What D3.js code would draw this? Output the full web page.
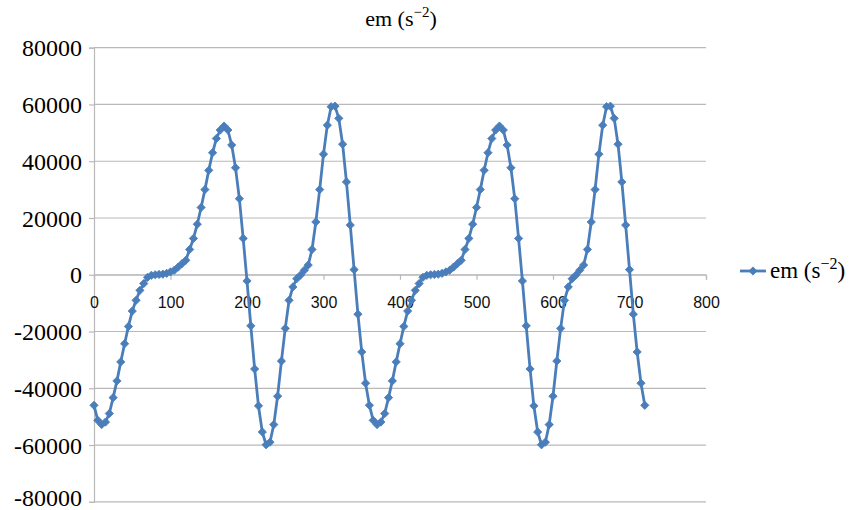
<!DOCTYPE html>
<html>
<head>
<meta charset="utf-8">
<script src="https://cdn.jsdelivr.net/npm/d3@7"></script>
<style>
  html, body { margin: 0; padding: 0; background: #fff; }
  svg { display: block; }
</style>
</head>
<body>
<svg id="chart" width="856" height="510"></svg>
<script>
// ---- data ----
const angles = [
  0,5,10,15,20,25,30,35,40,45,50,55,60,65,70,75,80,85,90,95,
  100,105,110,115,120,125,130,135,140,145,150,155,160,165,170,175,180,185,190,195,
  200,205,210,215,220,225,230,235,240,245,250,255,260,265,270,275,280,285,290,295,
  300,305,310,315,320,325,330,335,340,345,350,355,360,
  365,370,375,380,385,390,395,400,405,410,415,420,425,430,435,440,445,450,455,
  460,465,470,475,480,485,490,495,500,505,510,515,520,525,530,535,540,545,550,555,
  560,565,570,575,580,585,590,595,600,605,610,615,620,625,630,635,640,645,650,655,
  660,665,670,675,680,685,690,695,700,705,710,715,720
];
const emValues = [
  -46000,-51300,-52800,-51900,-48900,-43300,-37400,-30700,-24300,-18200,
  -12800,-9000,-5500,-3100,-900,-200,0,100,200,500,
  1000,1600,2700,3900,5100,8900,12800,17800,23700,30000,
  36800,43000,48000,51000,52400,51000,45700,37700,26800,12800,
  -2200,-18000,-33200,-46200,-55400,-59900,-59000,-52800,-42800,-30400,
  -18900,-9000,-4300,-1400,-100,1600,3400,8900,18600,30000,
  42500,52700,59200,59400,55100,46000,32700,17500,1800,-13900,
  -27200,-38200,-46000,
  -51300,-52800,-51900,-48900,-43300,-37400,-30700,-24300,-18200,
  -12800,-9000,-5500,-3100,-900,-200,0,100,200,500,
  1000,1600,2700,3900,5100,8900,12800,17800,23700,30000,
  36800,43000,48000,51000,52400,51000,45700,37700,26800,12800,
  -2200,-18000,-33200,-46200,-55400,-59900,-59000,-52800,-42800,-30400,
  -18900,-9000,-4300,-1400,-100,1600,3400,8900,18600,30000,
  42500,52700,59200,59400,55100,46000,32700,17500,1800,-13900,
  -27200,-38200,-46000
];
const xTickValues = [0,100,200,300,400,500,600,700,800];
const yTickValues = [-80000,-60000,-40000,-20000,0,20000,40000,60000,80000];
const seriesName = "em (s";
const seriesSup = "\u22122";

// ---- layout ----
const svg = d3.select("#chart");
const plotLeft = 94, plotRight = 706, plotTop = 47.7, plotBottom = 501.8;
const x = d3.scaleLinear().domain([0, 800]).range([plotLeft, plotRight]);
const y = d3.scaleLinear().domain([-80000, 80000]).range([plotBottom, plotTop]);
const blue = "#4a7ebb";
const grid = "#b9b9b9";

// gridlines
svg.append("g").selectAll("line").data(yTickValues).join("line")
  .attr("x1", plotLeft).attr("x2", plotRight)
  .attr("y1", d => y(d)).attr("y2", d => y(d))
  .attr("stroke", grid).attr("stroke-width", 1.2);

// y axis
const yAxis = svg.append("g").attr("transform", `translate(${plotLeft},0)`)
  .call(d3.axisLeft(y).tickValues(yTickValues).tickSize(5).tickPadding(7).tickFormat(d3.format("d")));
yAxis.select(".domain").attr("stroke", grid).attr("stroke-width", 1.2);
yAxis.selectAll(".tick line").attr("stroke", grid).attr("stroke-width", 1.2);
yAxis.selectAll("text")
  .attr("font-family", "'Liberation Serif', 'Times New Roman', serif")
  .attr("font-size", 24).attr("fill", "#000")
  .attr("dy", d => d === -80000 ? "0.17em" : "0.34em")
  .text(d => d < 0 ? "-" + Math.abs(d) : String(d));

// x axis at y = 0
const xAxis = svg.append("g").attr("transform", `translate(0,${y(0)})`)
  .call(d3.axisBottom(x).tickValues(xTickValues).tickSize(5).tickFormat(d3.format("d")));
xAxis.select(".domain").attr("stroke", grid).attr("stroke-width", 1.2);
xAxis.selectAll(".tick line").attr("stroke", grid).attr("stroke-width", 1.2);
xAxis.selectAll("text")
  .attr("font-family", "'Liberation Sans', Arial, sans-serif")
  .attr("font-size", 16).attr("fill", "#111")
  .attr("y", 28).attr("dy", "0.35em");

// series line
const pts = angles.map((a, i) => [a, emValues[i]]);
svg.append("path").datum(pts)
  .attr("fill", "none").attr("stroke", blue).attr("stroke-width", 2.8)
  .attr("stroke-linejoin", "round")
  .attr("d", d3.line().x(d => x(d[0])).y(d => y(d[1])));

// diamond markers
const diamond = d3.symbol().type(d3.symbolSquare).size(34);
svg.append("g").selectAll("path").data(pts).join("path")
  .attr("d", diamond)
  .attr("transform", d => `translate(${x(d[0])},${y(d[1])}) rotate(45)`)
  .attr("fill", blue).attr("stroke", blue).attr("stroke-width", 0.8);

// title
const title = svg.append("text")
  .attr("x", 401).attr("y", 26).attr("text-anchor", "middle")
  .attr("font-family", "'Liberation Serif', 'Times New Roman', serif")
  .attr("font-size", 22).attr("fill", "#000");
title.append("tspan").text(seriesName);
title.append("tspan").attr("dy", -9).attr("font-size", 15).text(seriesSup);
title.append("tspan").attr("dy", 9).text(")");

// legend
const lg = svg.append("g");
lg.append("line").attr("x1", 740).attr("x2", 766).attr("y1", 271).attr("y2", 271)
  .attr("stroke", blue).attr("stroke-width", 2.8);
lg.append("path").attr("d", diamond)
  .attr("transform", "translate(753,271) rotate(45)")
  .attr("fill", blue).attr("stroke", blue).attr("stroke-width", 0.8);
const lt = lg.append("text").attr("x", 770).attr("y", 278)
  .attr("font-family", "'Liberation Serif', 'Times New Roman', serif")
  .attr("font-size", 23).attr("fill", "#000");
lt.append("tspan").text(seriesName);
lt.append("tspan").attr("dy", -9).attr("font-size", 16).text(seriesSup);
lt.append("tspan").attr("dy", 9).text(")");
</script>
</body>
</html>
